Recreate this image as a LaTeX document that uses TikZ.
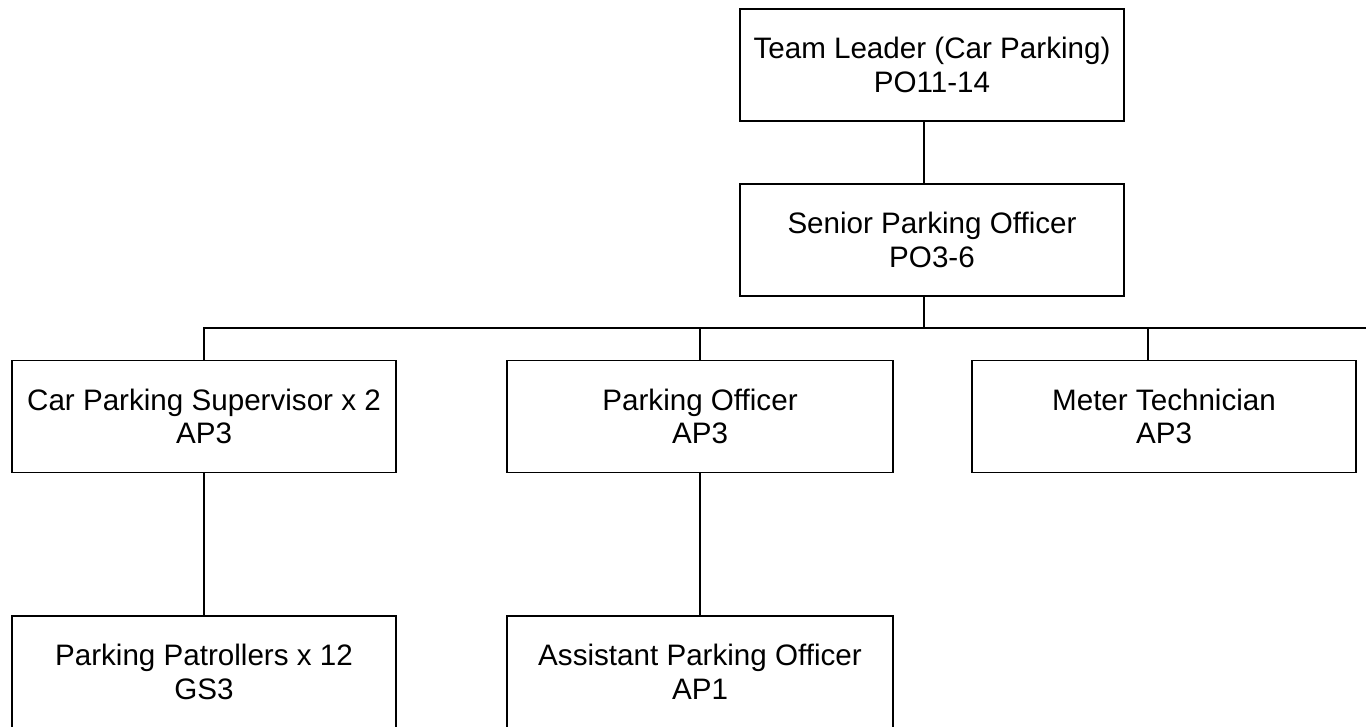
\documentclass[tikz,border=0pt]{standalone}
\usepackage{fontspec}
\setmainfont{Liberation Sans}
\usepackage{tikz}

\begin{document}
\begin{tikzpicture}[x=1pt,y=-1pt,rolle/.style={rectangle, draw=black, line width=1.3pt,
    minimum width=384pt, minimum height=112pt, align=center, inner sep=0pt,
    font=\fontsize{29.6}{33.5}\selectfont},verbinder/.style={line width=1.2pt,draw=black}]
  \useasboundingbox (0,0) rectangle (1366,727);

	\node [rolle] (leiter) at (932,65) {Team Leader (Car Parking)\\PO11-14};
	\node [rolle] (senior) at (932,240) {Senior Parking Officer\\PO3-6};
	\node [rolle] (aufsicht) at (204,416.5) {Car Parking Supervisor x 2\\AP3};
	\node [rolle,minimum width=386pt] (offizier) at (700,416.5) {Parking Officer\\AP3};
	\node [rolle] (technik) at (1164,416.5) {Meter Technician\\AP3};
	\node [rolle] (streife) at (204,672) {Parking Patrollers x 12\\GS3};
	\node [rolle,minimum width=386pt] (assistent) at (700,672) {Assistant Parking Officer\\AP1};

	\coordinate (schiene) at (1366,328);

	\draw [verbinder] ([xshift=-8pt]leiter.south) -- ([xshift=-8pt]senior.north);
	\draw [verbinder] ([xshift=-8pt]senior.south) -- ([xshift=-8pt]senior.south |- schiene);
	\draw [verbinder] (aufsicht.north) |- (schiene);
	\draw [verbinder] (offizier.north) -- (offizier.north |- schiene);
	\draw [verbinder] ([xshift=-16pt]technik.north) -- ([xshift=-16pt]technik.north |- schiene);
	\draw [verbinder] (aufsicht) -- (streife);
	\draw [verbinder] (offizier) -- (assistent);

\end{tikzpicture}
\end{document}
